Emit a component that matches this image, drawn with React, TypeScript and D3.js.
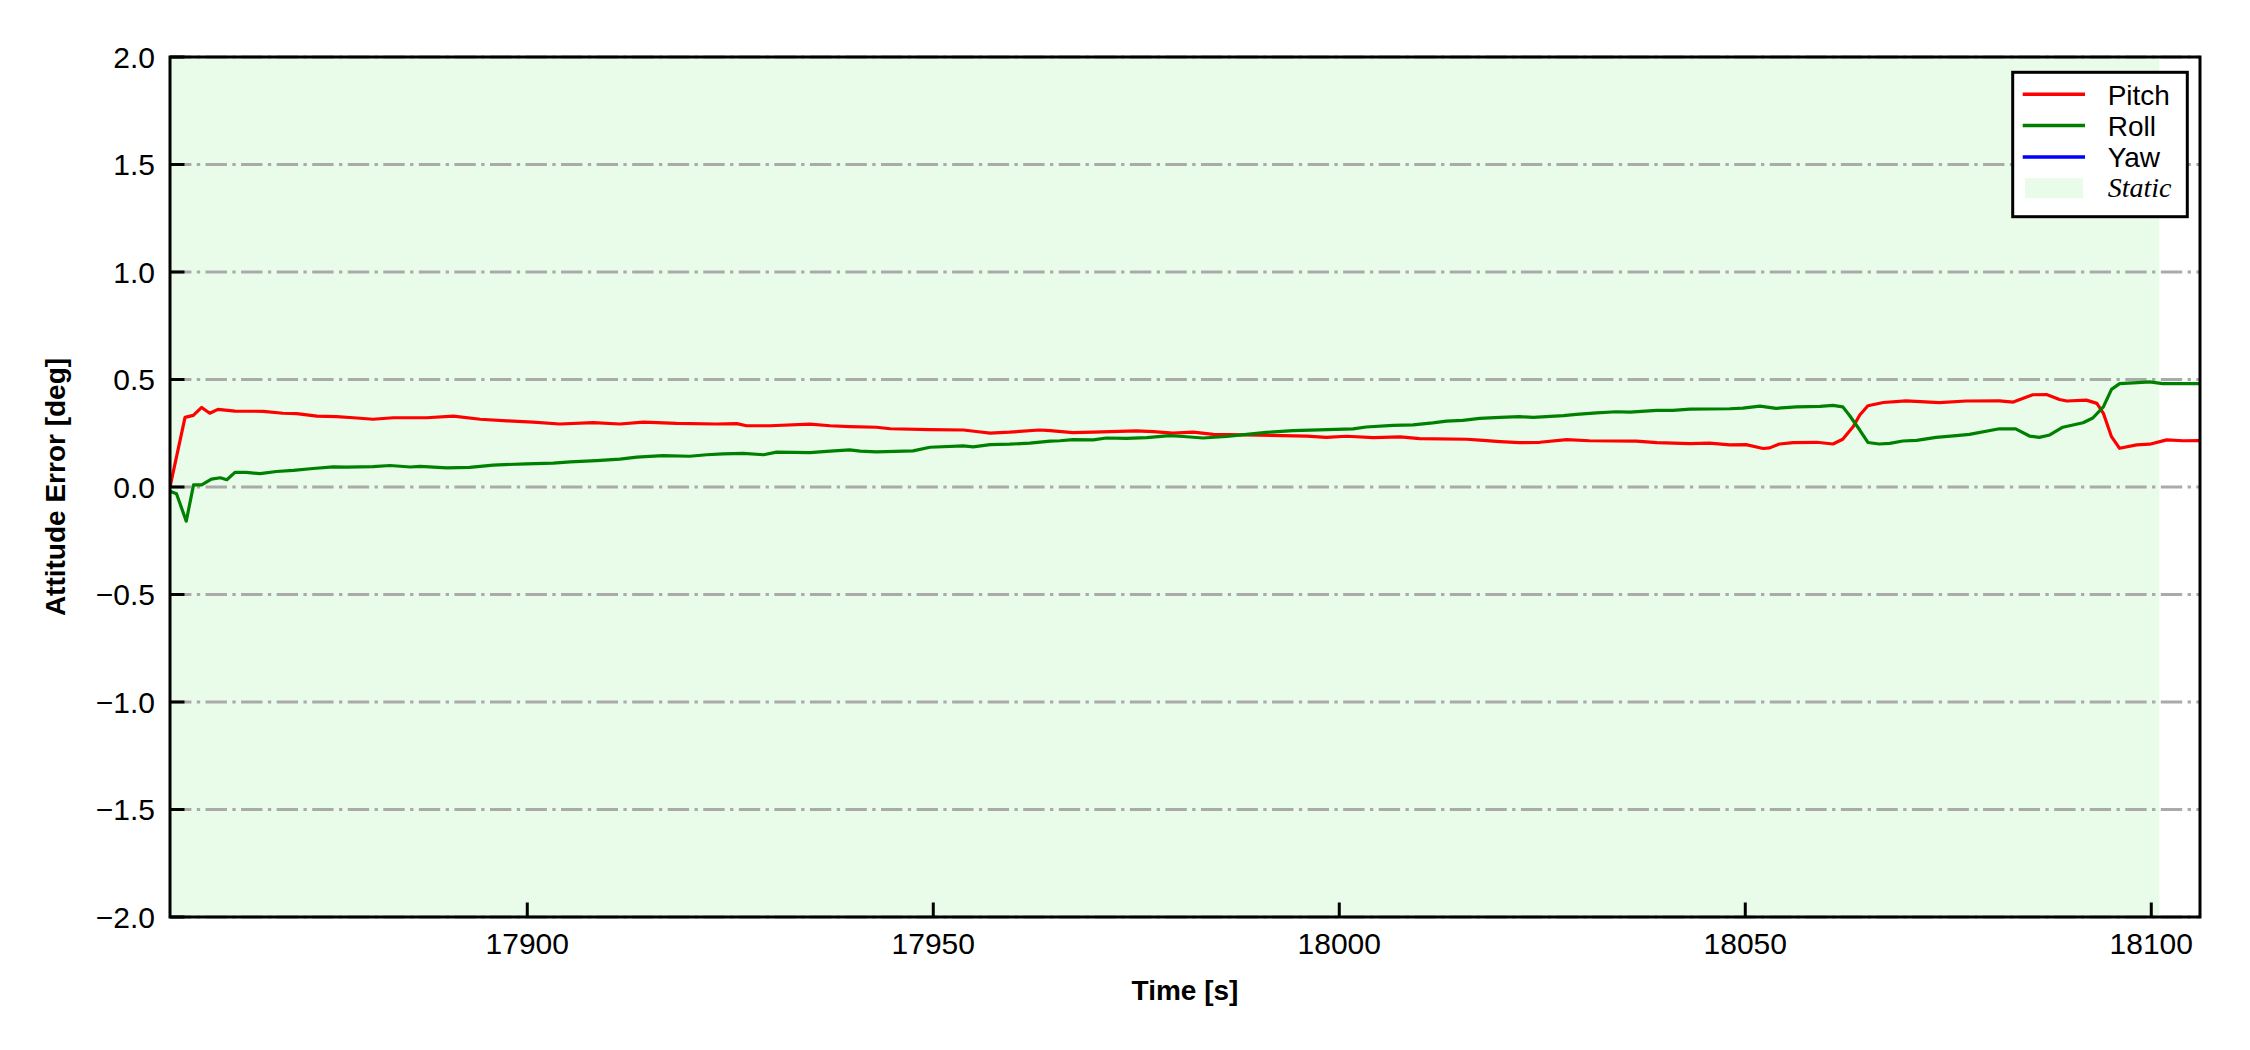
import React from "react";
import * as d3 from "d3";

// ---- data ----
const pitchTime = [17856.0,17857.85,17858.87,17859.9,17860.9,17861.9,17864.0,17867.5,17869.9,17871.6,17874.1,17876.5,17878.6,17881.0,17883.5,17887.6,17890.9,17894.2,17897.5,17900.7,17904.0,17908.1,17911.4,17914.3,17918.4,17923.3,17925.8,17927.0,17929.9,17934.8,17937.3,17939.7,17943.0,17944.7,17949.6,17953.7,17955.3,17957.0,17959.4,17963.1,17964.4,17967.2,17969.7,17975.0,17977.1,17979.5,17982.0,17984.5,17990.2,17996.0,17998.4,18000.9,18004.2,18007.5,18009.9,18015.7,18017.3,18019.8,18022.2,18024.7,18028.0,18030.8,18036.6,18039.1,18043.2,18045.6,18048.1,18050.1,18052.2,18053.0,18054.2,18055.9,18058.8,18060.8,18062.0,18063.3,18064.1,18065.1,18067.0,18069.8,18073.9,18077.2,18081.3,18083.0,18085.4,18087.1,18088.7,18089.6,18092.0,18093.3,18094.1,18095.1,18096.1,18098.2,18099.8,18101.9,18103.9,18105.9];
const pitch = [0.0,0.324,0.333,0.37,0.343,0.361,0.353,0.352,0.343,0.341,0.33,0.327,0.322,0.315,0.322,0.322,0.33,0.315,0.308,0.302,0.293,0.299,0.293,0.302,0.296,0.293,0.295,0.285,0.285,0.292,0.285,0.281,0.278,0.271,0.267,0.265,0.258,0.251,0.255,0.265,0.262,0.253,0.255,0.261,0.258,0.251,0.255,0.245,0.241,0.237,0.231,0.236,0.23,0.233,0.225,0.222,0.218,0.211,0.206,0.208,0.22,0.215,0.213,0.206,0.202,0.204,0.196,0.197,0.179,0.182,0.2,0.206,0.208,0.2,0.222,0.281,0.335,0.378,0.393,0.401,0.392,0.4,0.401,0.395,0.429,0.43,0.407,0.4,0.404,0.389,0.343,0.234,0.18,0.196,0.199,0.219,0.215,0.216];

const rollTime = [17856.0,17856.8,17858.0,17858.9,17859.9,17861.1,17862.2,17863.0,17864.0,17865.4,17867.1,17869.1,17871.2,17873.6,17876.1,17877.8,17881.0,17883.1,17885.6,17886.8,17890.1,17892.9,17895.8,17899.9,17903.2,17905.3,17908.5,17911.4,17913.5,17916.7,17920.0,17922.1,17924.1,17926.6,17929.1,17930.7,17934.8,17937.3,17939.7,17941.0,17943.0,17947.5,17949.6,17953.7,17954.9,17957.0,17959.4,17961.9,17964.4,17965.6,17967.2,17969.7,17971.3,17973.8,17976.3,17979.1,17980.8,17983.2,17986.1,17988.6,17991.0,17994.3,17999.6,18001.7,18003.3,18006.6,18009.1,18011.5,18013.2,18015.2,18017.3,18019.8,18022.2,18023.9,18027.6,18029.2,18031.7,18034.1,18035.8,18039.1,18041.1,18043.2,18048.1,18049.7,18051.8,18053.8,18056.3,18059.2,18060.8,18062.0,18062.8,18064.1,18065.1,18066.5,18067.8,18069.4,18071.1,18073.5,18076.0,18077.6,18081.3,18083.3,18085.0,18086.2,18087.5,18089.1,18091.6,18092.8,18094.1,18095.1,18096.1,18097.8,18099.8,18101.4,18105.9];
const roll = [-0.02,-0.031,-0.159,0.01,0.01,0.037,0.043,0.034,0.068,0.068,0.062,0.072,0.077,0.086,0.094,0.092,0.095,0.1,0.093,0.096,0.089,0.091,0.102,0.108,0.111,0.117,0.123,0.13,0.139,0.146,0.143,0.15,0.154,0.156,0.15,0.162,0.16,0.167,0.173,0.167,0.163,0.168,0.185,0.191,0.187,0.197,0.199,0.204,0.213,0.215,0.22,0.219,0.228,0.226,0.23,0.239,0.235,0.228,0.235,0.245,0.254,0.262,0.268,0.27,0.279,0.287,0.289,0.298,0.306,0.31,0.319,0.324,0.327,0.324,0.332,0.338,0.345,0.35,0.348,0.356,0.356,0.362,0.364,0.367,0.376,0.366,0.373,0.375,0.38,0.373,0.335,0.265,0.207,0.2,0.203,0.214,0.217,0.231,0.239,0.245,0.271,0.27,0.237,0.231,0.242,0.278,0.299,0.321,0.373,0.454,0.481,0.484,0.489,0.481,0.481];

const yawTime: number[] = [];
const yaw: number[] = [];

const staticSpan = [17856, 18101];
const xDomain = [17856, 18106];
const yDomain = [-2, 2];
const xTicks = [17900, 17950, 18000, 18050, 18100];
const yTicks = [-2, -1.5, -1, -0.5, 0, 0.5, 1, 1.5, 2];

const legendItems = [
  { label: "Pitch", color: "#ff0000", kind: "line" },
  { label: "Roll", color: "#008000", kind: "line" },
  { label: "Yaw", color: "#0000ff", kind: "line" },
  { label: "Static", color: "rgb(233,252,233)", kind: "patch" },
];

const W = 2250, H = 1050;
const M = { left: 170, right: 2200, top: 57, bottom: 917 };

export default function App() {
  const x = d3.scaleLinear().domain(xDomain).range([M.left, M.right]);
  const y = d3.scaleLinear().domain(yDomain).range([M.bottom, M.top]);
  const line = d3.line<[number, number]>().x(d => x(d[0])).y(d => y(d[1]));
  const zip = (t: number[], v: number[]) => t.map((ti, i) => [ti, v[i]] as [number, number]);
  const fmtY = (v: number) => (v < 0 ? "\u2212" : "") + Math.abs(v).toFixed(1);
  const font = "Arial, 'Liberation Sans', Helvetica, sans-serif";

  const series = [
    { d: zip(pitchTime, pitch), c: "#ff0000" },
    { d: zip(rollTime, roll), c: "#008000" },
    { d: zip(yawTime, yaw), c: "#0000ff" },
  ];

  const legX = 2012.7, legY = 72.3, legW = 174.6, legH = 144.4;

  return (
    <svg width={W} height={H} style={{ position: "absolute", left: 0, top: 0, background: "#fff" }} fontFamily={font}>
      <defs>
        <clipPath id="plot"><rect x={M.left} y={M.top} width={M.right - M.left} height={M.bottom - M.top} /></clipPath>
      </defs>
      {/* static span */}
      <rect x={x(staticSpan[0])} y={M.top} width={x(staticSpan[1]) - x(staticSpan[0])} height={M.bottom - M.top} fill="rgb(233,252,233)" />
      {/* grid */}
      {yTicks.map(t => (
        <line key={"g" + t} x1={M.left} x2={M.right} y1={y(t)} y2={y(t)} stroke="#aaaaaa" strokeWidth={3} strokeDasharray="21.4 5.4 3.35 5.4" />
      ))}
      {/* series */}
      <g clipPath="url(#plot)">
        {series.map((s, i) => s.d.length > 1 && (
          <path key={i} d={line(s.d) || ""} fill="none" stroke={s.c} strokeWidth={3.2} strokeLinejoin="round" />
        ))}
      </g>
      {/* frame */}
      <rect x={M.left} y={M.top} width={M.right - M.left} height={M.bottom - M.top} fill="none" stroke="#000" strokeWidth={3} />
      {/* y ticks */}
      {yTicks.map(t => (
        <g key={"y" + t}>
          <line x1={M.left} x2={M.left + 14.5} y1={y(t)} y2={y(t)} stroke="#000" strokeWidth={3} />
          <text x={155} y={y(t)} dy="0.36em" textAnchor="end" fontSize={30}>{fmtY(t)}</text>
        </g>
      ))}
      {/* x ticks */}
      {xTicks.map(t => (
        <g key={"x" + t}>
          <line x1={x(t)} x2={x(t)} y1={M.bottom} y2={M.bottom - 14.5} stroke="#000" strokeWidth={3} />
          <text x={x(t)} y={954} textAnchor="middle" fontSize={30}>{t}</text>
        </g>
      ))}
      {/* axis labels */}
      <text x={(M.left + M.right) / 2} y={1000} textAnchor="middle" fontSize={28} fontWeight="bold">Time [s]</text>
      <text transform={`translate(65,${(M.top + M.bottom) / 2}) rotate(-90)`} textAnchor="middle" fontSize={28} fontWeight="bold">Attitude Error [deg]</text>
      {/* legend */}
      <rect x={legX} y={legY} width={legW} height={legH} fill="#fff" stroke="#000" strokeWidth={3} />
      {legendItems.map((it, i) => {
        const cy = 94.3 + i * 31.3;
        return (
          <g key={it.label}>
            {it.kind === "line"
              ? <line x1={2022.7} x2={2085} y1={cy} y2={cy} stroke={it.color} strokeWidth={3.5} />
              : <rect x={2025} y={cy - 10} width={58} height={20} fill={it.color} />}
            {it.kind === "line"
              ? <text x={2107.7} y={cy + 10.5} fontSize={28}>{it.label}</text>
              : <text x={2107.7} y={cy + 9} fontSize={28} fontStyle="italic" fontFamily="'Times New Roman', 'Liberation Serif', serif">{it.label}</text>}
          </g>
        );
      })}
    </svg>
  );
}
